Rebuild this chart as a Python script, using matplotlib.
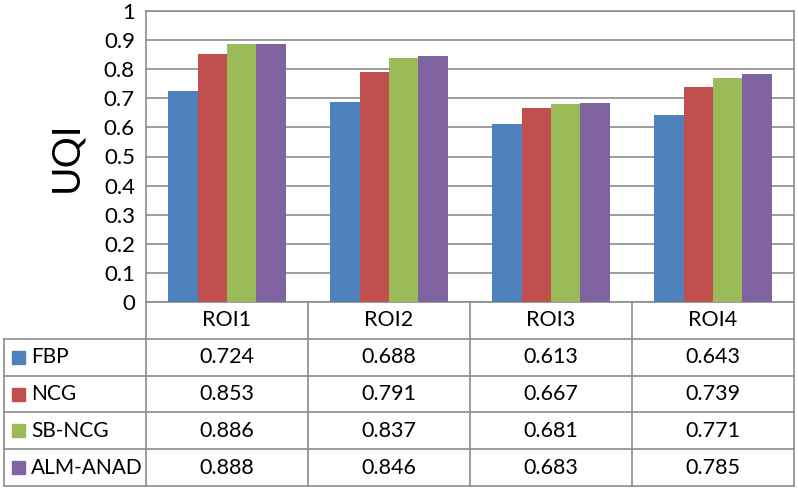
import matplotlib.pyplot as plt
from matplotlib.patches import Rectangle
import numpy as np

plt.rcParams['font.family'] = ['Lato', 'DejaVu Sans']

categories = ['ROI1', 'ROI2', 'ROI3', 'ROI4']
methods = ['FBP', 'NCG', 'SB-NCG', 'ALM-ANAD']
fbp = [0.724, 0.688, 0.613, 0.643]
ncg = [0.853, 0.791, 0.667, 0.739]
sb_ncg = [0.886, 0.837, 0.681, 0.771]
alm_anad = [0.888, 0.846, 0.683, 0.785]
yticks = [0, 0.1, 0.2, 0.3, 0.4, 0.5, 0.6, 0.7, 0.8, 0.9, 1]

series = [fbp, ncg, sb_ncg, alm_anad]
colors = ['#4F81BD', '#C0504D', '#9BBB59', '#8064A2']
grid_col = '#8C8C8C'

W, H = 798, 491
fig = plt.figure(figsize=(W / 100, H / 100), dpi=100)

# pixel layout
px_left, px_right = 146, 794
px_top, px_zero = 11, 302
px_tab_left, px_tab_bot = 4, 486
col_w = (px_right - px_left) / len(categories)

ax = fig.add_axes([px_left / W, (H - px_zero) / H,
                   (px_right - px_left) / W, (px_zero - px_top) / H])
n = len(series)
bar_w = 1 / (n + 1.5)
x = np.arange(len(categories))
for i, (vals, c) in enumerate(zip(series, colors)):
    ax.bar(x + 0.5 + (i - (n - 1) / 2) * bar_w, vals, width=bar_w, color=c, zorder=3)
ax.set_xlim(0, len(categories))
ax.set_ylim(0, 1)
ax.set_yticks(yticks)
ax.set_yticklabels([f'{t:g}' for t in yticks], fontsize=16)
ax.set_xticks([])
ax.tick_params(axis='y', length=0, pad=8)
ax.yaxis.grid(True, color=grid_col, linewidth=1.2, zorder=0)
for s in ax.spines.values():
    s.set_color(grid_col)
    s.set_linewidth(1.2)
ax.set_ylabel('UQI', fontsize=28, labelpad=14)

# data table below the plot
tab = fig.add_axes([0, 0, 1, 1])
tab.set_xlim(0, W)
tab.set_ylim(H, 0)
tab.axis('off')
lw = 1.2
row_h = (px_tab_bot - px_zero) / (len(methods) + 1)
hdr_bot = px_zero + row_h
# vertical lines in header row and body
for k in range(len(categories) + 1):
    xx = px_left + k * col_w
    tab.plot([xx, xx], [px_zero, px_tab_bot], color=grid_col, lw=lw)
tab.plot([px_tab_left, px_tab_left], [hdr_bot, px_tab_bot], color=grid_col, lw=lw)
for r in range(1, len(methods) + 2):
    yy = px_zero + r * row_h
    tab.plot([px_tab_left, px_right], [yy, yy], color=grid_col, lw=lw)

for k, cat in enumerate(categories):
    tab.text(px_left + (k + 0.5) * col_w, px_zero + row_h / 2, cat,
             ha='center', va='center', fontsize=15.5)

for r, (m, vals, c) in enumerate(zip(methods, series, colors)):
    yc = hdr_bot + (r + 0.5) * row_h
    tab.add_patch(Rectangle((12, yc - 6.5), 13, 13, color=c))
    tab.text(31, yc, m, ha='left', va='center', fontsize=15)
    for k, v in enumerate(vals):
        tab.text(px_left + (k + 0.5) * col_w, yc, f'{v:.3f}',
                 ha='center', va='center', fontsize=15.5)

fig.savefig('out.png', dpi=100)
